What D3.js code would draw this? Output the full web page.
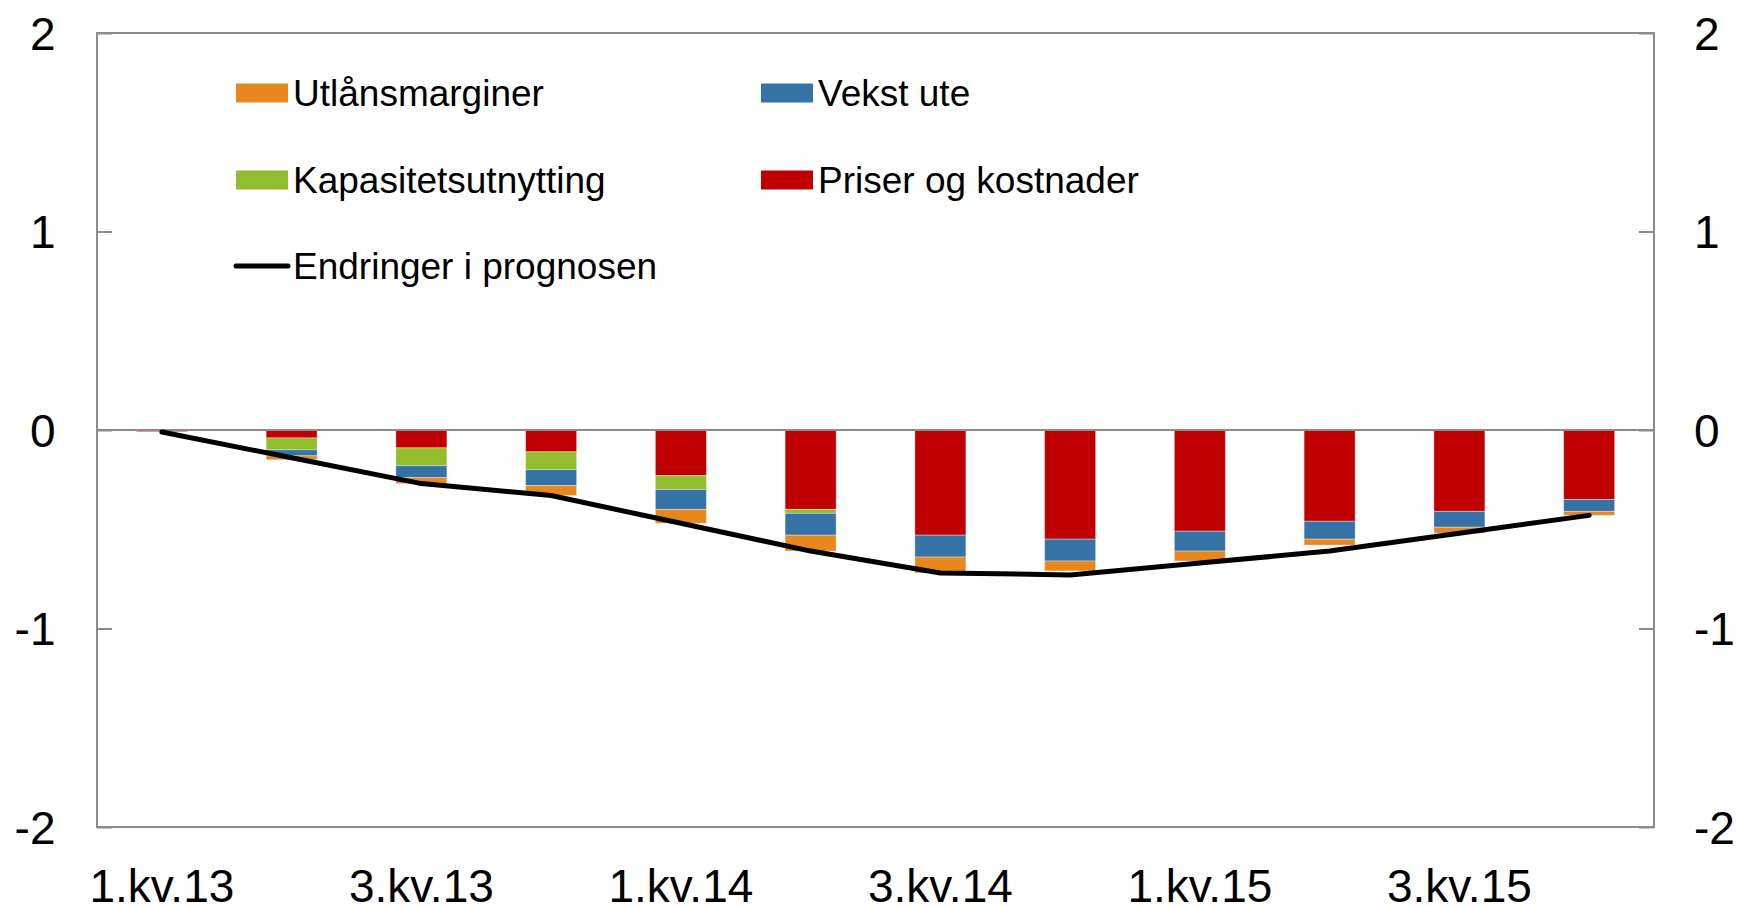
<!DOCTYPE html>
<html>
<head>
<meta charset="utf-8">
<script src="https://cdn.jsdelivr.net/npm/d3@7"></script>
<style>
  body { margin: 0; background: #fff; }
  text { font-family: "Liberation Sans", Arial, sans-serif; fill: #000; }
</style>
</head>
<body>
<div id="chart"></div>
<script>
const width = 1741;
const height = 906;
const margin = { top: 33, right: 87, bottom: 79, left: 97 };
const innerWidth = width - margin.left - margin.right;
const innerHeight = height - margin.top - margin.bottom;

// data
const quarters = ["1.kv.13", "2.kv.13", "3.kv.13", "4.kv.13",
                  "1.kv.14", "2.kv.14", "3.kv.14", "4.kv.14",
                  "1.kv.15", "2.kv.15", "3.kv.15", "4.kv.15"];
const priser     = [-0.008, -0.04, -0.09, -0.11, -0.23, -0.40, -0.53, -0.55, -0.51, -0.46, -0.41, -0.35];
const kapasitet  = [0, -0.06, -0.09, -0.09, -0.07, -0.02, 0, 0, 0, 0, 0, 0];
const vekstUte   = [0, -0.03, -0.06, -0.08, -0.10, -0.11, -0.11, -0.11, -0.10, -0.09, -0.08, -0.06];
const utlan      = [0, -0.02, -0.03, -0.05, -0.07, -0.08, -0.08, -0.05, -0.05, -0.03, -0.03, -0.02];
const endringer  = [-0.01, -0.14, -0.27, -0.33, -0.47, -0.61, -0.72, -0.73, -0.67, -0.61, -0.52, -0.43];
const yTicks = [-2, -1, 0, 1, 2];

const keys = ["priser", "kapasitet", "vekst", "utlan"];
const colors = { utlan: "#E8871E", vekst: "#3572A5", kapasitet: "#92BD2C", priser: "#C00000" };

const table = quarters.map((q, i) => ({
    q: q, priser: priser[i], kapasitet: kapasitet[i], vekst: vekstUte[i], utlan: utlan[i]
}));

const svg = d3.select("#chart").append("svg")
    .attr("width", width)
    .attr("height", height);

const g = svg.append("g")
    .attr("transform", `translate(${margin.left},${margin.top})`);

const xScale = d3.scaleBand()
    .domain(quarters)
    .range([0, innerWidth])
    .paddingInner(0.607)
    .paddingOuter(0.3035);

const yScale = d3.scaleLinear()
    .domain([-2, 2])
    .range([innerHeight, 0]);

// bars (negative values stack downward from zero)
const series = d3.stack().keys(keys).offset(d3.stackOffsetDiverging)(table);

g.append("g")
  .selectAll("g")
  .data(series)
  .enter()
  .append("g")
  .attr("fill", d => colors[d.key])
  .selectAll("rect")
  .data(d => d)
  .enter()
  .append("rect")
  .attr("x", d => xScale(d.data.q))
  .attr("y", d => Math.min(yScale(d[0]), yScale(d[1])))
  .attr("width", xScale.bandwidth())
  .attr("height", d => Math.abs(yScale(d[0]) - yScale(d[1])))
  .attr("stroke", "#fff")
  .attr("stroke-opacity", 0.35)
  .attr("stroke-width", 1);

// zero line
g.append("line")
  .attr("x1", 0).attr("x2", innerWidth)
  .attr("y1", yScale(0)).attr("y2", yScale(0))
  .attr("stroke", "#8c8c8c")
  .attr("stroke-width", 2);

// frame
g.append("rect")
  .attr("width", innerWidth)
  .attr("height", innerHeight)
  .attr("fill", "none")
  .attr("stroke", "#8c8c8c")
  .attr("stroke-width", 2);

// line
const line = d3.line()
    .x((d, i) => xScale(quarters[i]) + xScale.bandwidth() / 2)
    .y(d => yScale(d));

g.append("path")
  .datum(endringer)
  .attr("d", line)
  .attr("fill", "none")
  .attr("stroke", "#000")
  .attr("stroke-width", 5)
  .attr("stroke-linejoin", "round")
  .attr("stroke-linecap", "round");

// axes
const fmt = d => String(d);
const yLeft = g.append("g")
  .call(d3.axisLeft(yScale).tickValues(yTicks).tickSize(-15).tickPadding(41.5).tickFormat(fmt));
const yRight = g.append("g")
  .attr("transform", `translate(${innerWidth},0)`)
  .call(d3.axisRight(yScale).tickValues(yTicks).tickSize(-15).tickPadding(40).tickFormat(fmt));
[yLeft, yRight].forEach(ax => {
    ax.select(".domain").remove();
    ax.selectAll("line").attr("stroke", "#8c8c8c").attr("stroke-width", 2);
    ax.selectAll("text").style("font-size", "46px").attr("dy", "0.35em");
});

const xAxis = g.append("g")
  .attr("transform", `translate(0,${innerHeight})`)
  .call(d3.axisBottom(xScale).tickValues(quarters.filter((q, i) => i % 2 == 0)).tickSize(0));
xAxis.select(".domain").remove();
xAxis.selectAll("text")
  .style("font-size", "46px")
  .attr("y", 75)
  .attr("dy", null);

// legend
const legendItems = [
    { name: "Utlånsmarginer", key: "utlan", x: 236, y: 93 },
    { name: "Vekst ute", key: "vekst", x: 761, y: 93 },
    { name: "Kapasitetsutnytting", key: "kapasitet", x: 236, y: 180 },
    { name: "Priser og kostnader", key: "priser", x: 761, y: 180 },
    { name: "Endringer i prognosen", key: null, x: 236, y: 266 }
];

const legend = svg.append("g");
legendItems.forEach(it => {
    if (it.key) {
        legend.append("rect")
          .attr("x", it.x).attr("y", it.y - 9.5)
          .attr("width", 52).attr("height", 19)
          .attr("fill", colors[it.key]);
    } else {
        legend.append("line")
          .attr("x1", it.x).attr("x2", it.x + 52)
          .attr("y1", it.y).attr("y2", it.y)
          .attr("stroke", "#000")
          .attr("stroke-width", 5)
          .attr("stroke-linecap", "round");
    }
    legend.append("text")
      .attr("x", it.x + 57)
      .attr("y", it.y + 13)
      .style("font-size", "37px")
      .text(it.name);
});
</script>
</body>
</html>
